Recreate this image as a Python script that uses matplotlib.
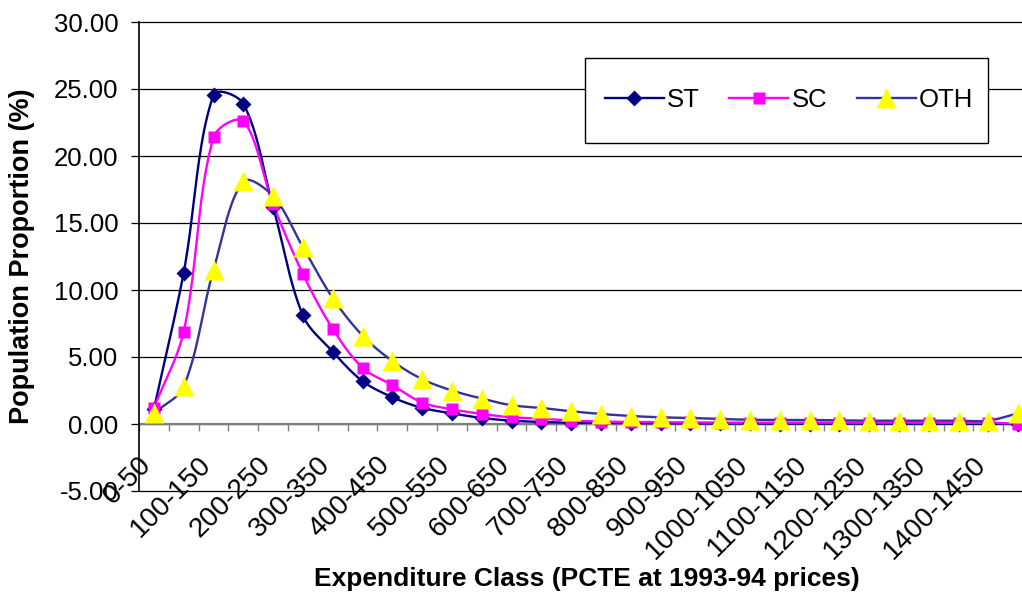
"""
Population proportion by expenditure class (ST / SC / OTH), Excel-style
smoothed line chart.
"""

import numpy as np
import matplotlib
matplotlib.use("Agg")
import matplotlib.pyplot as plt
from matplotlib.patches import Rectangle
from matplotlib.transforms import ScaledTranslation

CLASSES = [f"{lo}-{lo + 50}" for lo in range(0, 1500, 50)]

ST = [1.1, 11.3, 24.55, 23.9, 16.2, 8.1, 5.4, 3.2, 2.0, 1.2,
      0.8, 0.45, 0.25, 0.15, 0.1, 0.08, 0.06, 0.05, 0.05, 0.04,
      0.04, 0.03, 0.03, 0.03, 0.03, 0.02, 0.02, 0.02, 0.02, 0.0]
SC = [1.2, 6.9, 21.4, 22.6, 16.4, 11.2, 7.1, 4.2, 2.9, 1.6,
      1.1, 0.75, 0.5, 0.4, 0.25, 0.18, 0.15, 0.12, 0.12, 0.1,
      0.1, 0.1, 0.1, 0.1, 0.1, 0.1, 0.1, 0.1, 0.1, 0.02]
OTH = [0.8, 2.8, 11.5, 18.1, 17.0, 13.2, 9.4, 6.6, 4.7, 3.35,
       2.5, 1.9, 1.4, 1.2, 0.95, 0.75, 0.6, 0.5, 0.45, 0.37,
       0.32, 0.3, 0.3, 0.27, 0.25, 0.25, 0.25, 0.25, 0.25, 0.8]

Y_TICKS = [-5, 0, 5, 10, 15, 20, 25, 30]

FONT = "Liberation Sans"


def smooth_line(ax, xs, ys, steps=24):
    """Bezier smoothing in screen space, similar to Excel's smoothed lines."""
    pts = ax.transData.transform(np.column_stack([xs, ys]))
    out = [pts[0]]
    n = len(pts)
    t = np.linspace(0, 1, steps)[1:, None]
    for i in range(n - 1):
        p0 = pts[i - 1] if i > 0 else pts[i]
        p1, p2 = pts[i], pts[i + 1]
        p3 = pts[i + 2] if i + 2 < n else pts[i + 1]
        d01 = np.linalg.norm(p1 - p0)
        d12 = np.linalg.norm(p2 - p1)
        d23 = np.linalg.norm(p3 - p2)
        c1 = p1 + (p2 - p0) * (d12 / (d01 + d12)) / 3 if d01 + d12 > 0 else p1
        c2 = p2 - (p3 - p1) * (d12 / (d12 + d23)) / 3 if d12 + d23 > 0 else p2
        seg = ((1 - t) ** 3) * p1 + 3 * ((1 - t) ** 2) * t * c1 \
            + 3 * (1 - t) * (t ** 2) * c2 + (t ** 3) * p2
        out.extend(seg)
    return ax.transData.inverted().transform(np.array(out))


def main() -> None:
    plt.rcParams["font.family"] = [FONT, "DejaVu Sans"]

    fig = plt.figure(figsize=(10.22, 5.96), dpi=100)
    W, H = 1022, 596
    left, right, top, bottom = 139, 139 + 30 * 29.8, 22, 491
    ax = fig.add_axes([left / W, 1 - bottom / H, (right - left) / W, (bottom - top) / H])

    x = np.arange(len(CLASSES))
    ax.set_xlim(-0.5, len(CLASSES) - 0.5)
    ax.set_ylim(-5, 30)

    for level in Y_TICKS:
        ax.axhline(level, color="black", lw=0.9, zorder=1, clip_on=False)

    series = [
        (ST, "ST", "#000080", "#000080", "D", 8.5),
        (SC, "SC", "#FF00FF", "#FF00FF", "s", 9.0),
        (OTH, "OTH", "#333399", "#FFFF00", "^", 14.0),
    ]
    handles = []
    for vals, name, lc, mc, mk, ms in series:
        curve = smooth_line(ax, x, vals)
        ax.plot(curve[:, 0], curve[:, 1], color=lc, lw=1.7, zorder=3)
        ax.plot(x, vals, ls="none", marker=mk, ms=ms, mfc=mc, mec="none", zorder=4)
        h, = ax.plot([], [], color=lc, lw=1.7, marker=mk, ms=ms, mfc=mc, mec="none")
        handles.append((h, name))

    for side in ("top", "right"):
        ax.spines[side].set_visible(False)
    ax.spines["left"].set_color("black")
    ax.spines["left"].set_linewidth(1.2)
    ax.spines["bottom"].set_position(("data", 0))
    ax.spines["bottom"].set_color("#808080")
    ax.spines["bottom"].set_linewidth(1.6)
    ax.spines["bottom"].set_zorder(2)

    ax.set_yticks(Y_TICKS)
    ax.set_yticklabels([f"{v:.2f}" for v in Y_TICKS], fontsize=18.5)
    ax.tick_params(axis="y", direction="out", length=6, width=0.9, pad=9)

    # tick marks between classes, labels on every other class
    ax.set_xticks(np.arange(-0.5, len(CLASSES), 1.0))
    ax.set_xticklabels([])
    ax.tick_params(axis="x", which="major", direction="out", length=5,
                   width=1.0, color="#808080")
    even = x[::2]
    ax.set_xticks(even, [CLASSES[i] for i in even], minor=True)
    ax.tick_params(axis="x", which="minor", length=0, pad=20, labelsize=20)
    shift = ScaledTranslation(-11 / 72, 0, fig.dpi_scale_trans)
    for lab in ax.get_xticklabels(minor=True):
        lab.set_rotation(45)
        lab.set_ha("right")
        lab.set_va("top")
        lab.set_rotation_mode("anchor")
        lab.set_transform(lab.get_transform() + shift)

    # legend box drawn by hand to match the original frame
    box = Rectangle((585 / W, 1 - 143 / H), (988 - 585) / W, (143 - 58) / H,
                    transform=fig.transFigure, facecolor="white",
                    edgecolor="black", lw=1.0, zorder=4)
    fig.patches.append(box)
    leg = fig.legend([h for h, _ in handles], [n for _, n in handles],
                     loc="center", bbox_to_anchor=(789 / W, 1 - 100 / H),
                     ncol=3, fontsize=18.5, frameon=False, numpoints=1,
                     handlelength=2.3, handletextpad=0.12, columnspacing=1.15,
                     borderpad=0, borderaxespad=0)
    leg.set_zorder(5)

    fig.text(22 / W, 1 - 256 / H, "Population Proportion (%)", rotation=90,
             ha="center", va="center", fontsize=19.5, fontweight="bold")
    fig.text(587 / W, 1 - 579 / H, "Expenditure Class (PCTE at 1993-94 prices)",
             ha="center", va="center", fontsize=19, fontweight="bold")

    fig.savefig("out.png", dpi=100)
    plt.close(fig)


if __name__ == "__main__":
    main()
